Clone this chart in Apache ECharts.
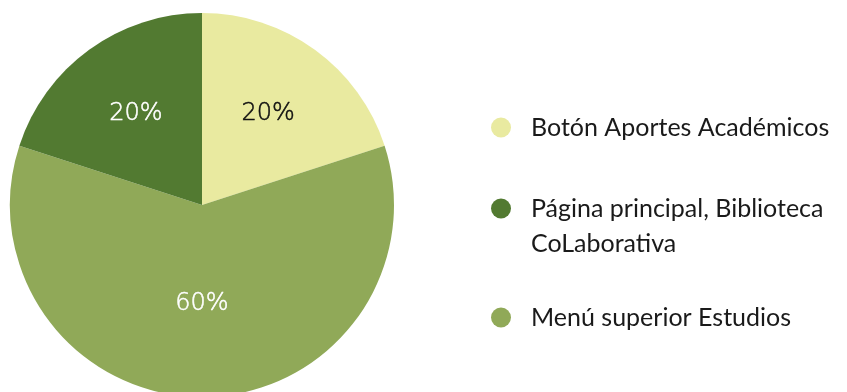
<!DOCTYPE html>
<html>
<head>
<meta charset="utf-8">
<script src="https://cdn.jsdelivr.net/npm/echarts@6/dist/echarts.min.js"></script>
<style>
  html, body { margin: 0; padding: 0; background: #ffffff; }
  #chart { width: 847px; height: 392px; }
</style>
</head>
<body>
<div id="chart"></div>
<script>
// Slices in drawing order (clockwise from 12 o'clock)
const categories = [
  'Botón Aportes Académicos',
  'Menú superior Estudios',
  'Página principal, Biblioteca\nCoLaborativa'
];
const values = [20, 60, 20];
const colors = ['#e9eaa0', '#90a958', '#527a31'];
const labelColors = ['#111111', '#ffffff', '#ffffff'];

// Legend entries, top to bottom
const legendOrder = [0, 2, 1];

const R = 192;
const total = values.reduce((a, b) => a + b, 0);

// Push the labels of the narrow slices a little further out from the centre
let acc = 0;
const pieData = values.map((v, i) => {
  const mid = (acc + v / 2) / total * Math.PI * 2;
  acc += v;
  const shift = v / total < 0.5 ? 0.07 * R : 0;
  return {
    name: categories[i],
    value: v,
    itemStyle: { color: colors[i] },
    label: {
      color: labelColors[i],
      textBorderColor: labelColors[i],
      textBorderWidth: 0.5,
      offset: [shift * Math.sin(mid), -shift * Math.cos(mid)]
    }
  };
});

// One legend block per entry so the two-line entry keeps its icon on the first line
const LH = 35;
const legendTops = [105, 151, 295];
const legends = legendOrder.map((idx, k) => ({
  orient: 'vertical',
  left: 486,
  top: legendTops[k],
  itemWidth: 50,
  itemHeight: 20,
  icon: 'circle',
  selectedMode: false,
  data: [categories[idx]],
  formatter: name => (name.indexOf('\n') >= 0 ? ' \n' + name : name),
  textStyle: {
    fontFamily: 'Lato',
    fontSize: 25,
    color: '#1a1a1a',
    lineHeight: LH
  }
}));

const chart = echarts.init(document.getElementById('chart'), null, { renderer: 'canvas' });
chart.setOption({
  animation: false,
  backgroundColor: '#ffffff',
  legend: legends,
  series: [{
    type: 'pie',
    center: [202, 205],
    radius: R,
    startAngle: 90,
    clockwise: true,
    avoidLabelOverlap: false,
    label: {
      show: true,
      position: 'inside',
      formatter: p => p.value + '%',
      fontFamily: 'DejaVu Sans',
      fontWeight: 200,
      fontSize: 24
    },
    labelLine: { show: false },
    emphasis: { disabled: true },
    itemStyle: { borderWidth: 0 },
    data: pieData
  }]
});
</script>
</body>
</html>
